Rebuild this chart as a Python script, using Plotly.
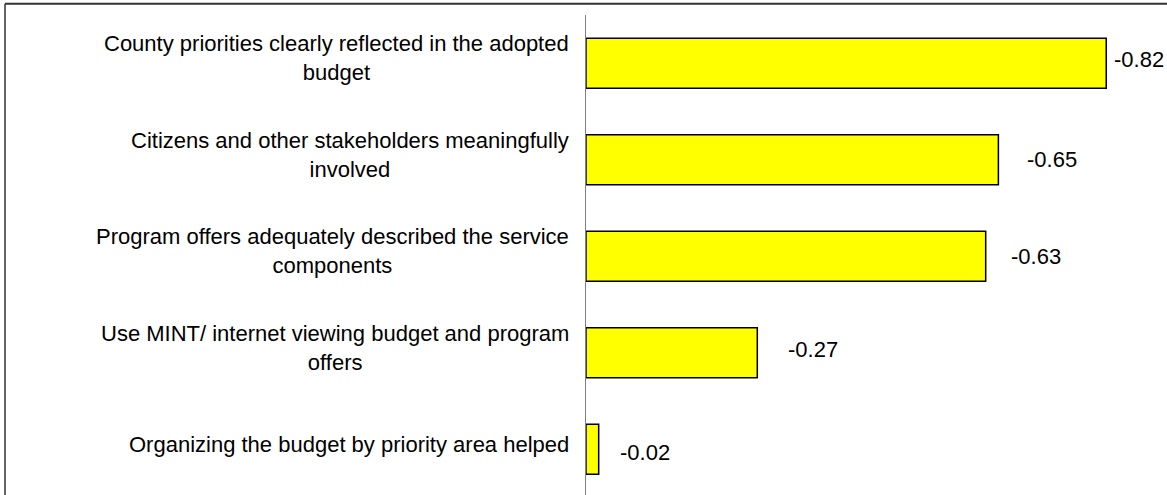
import plotly.graph_objects as go

categories = [
    "County priorities clearly reflected in the adopted<br>budget",
    "Citizens and other stakeholders meaningfully<br>involved",
    "Program offers adequately described the service<br>components",
    "Use MINT/ internet viewing budget and program<br>offers",
    "Organizing the budget by priority area helped",
]
values = [-0.82, -0.65, -0.63, -0.27, -0.02]
value_labels = ["-0.82", "-0.65", "-0.63", "-0.27", "-0.02"]

# label placement styling (pixels)
label_dx = [6, 27, 23, 29, 19]
label_dy = [4, 0, 0, 3, -3]

FONT = "Liberation Sans, Arial, sans-serif"

fig = go.Figure()
fig.add_trace(go.Bar(
    x=values, y=categories, orientation="h",
    width=0.52,
    marker=dict(color="#FFFF00", line=dict(color="#000000", width=1.5)),
    hoverinfo="skip",
))

annotations = []
for cat in categories:
    annotations.append(dict(
        x=0, xref="paper", y=cat, yref="y",
        text=cat, showarrow=False, xanchor="right", yanchor="middle",
        align="center", xshift=-15, yshift=5,
        font=dict(family=FONT, size=22, color="#000000"),
    ))
for cat, v, lab, dx, dy in zip(categories, values, value_labels, label_dx, label_dy):
    annotations.append(dict(
        x=v, xref="x", y=cat, yref="y",
        text=lab, showarrow=False, xanchor="left", yanchor="middle",
        xshift=dx, yshift=dy,
        font=dict(family=FONT, size=22, color="#000000"),
    ))

shapes = [
    dict(type="line", xref="paper", yref="paper", x0=-1.0175, x1=1.05, y0=1.0235, y1=1.0235,
         line=dict(color="#333333", width=2)),
    dict(type="line", xref="paper", yref="paper", x0=-1.0175, x1=-1.0175, y0=1.0235, y1=-0.05,
         line=dict(color="#333333", width=1.5)),
]

fig.update_layout(
    width=1167, height=495,
    margin=dict(l=586, r=10, t=15, b=0),
    paper_bgcolor="white", plot_bgcolor="white",
    showlegend=False,
    annotations=annotations,
    shapes=shapes,
    font=dict(family=FONT),
)
fig.update_xaxes(range=[0, -0.9], showgrid=False, zeroline=False, showticklabels=False,
                 showline=False, ticks="")
fig.update_yaxes(range=[4.474, -0.5], showgrid=False, zeroline=False, showticklabels=False,
                 showline=True, linecolor="#808080", linewidth=1, ticks="")

fig.write_html("out.html", config={"displayModeBar": False},
               post_script="document.body.style.margin='0';document.body.style.overflow='hidden';")
